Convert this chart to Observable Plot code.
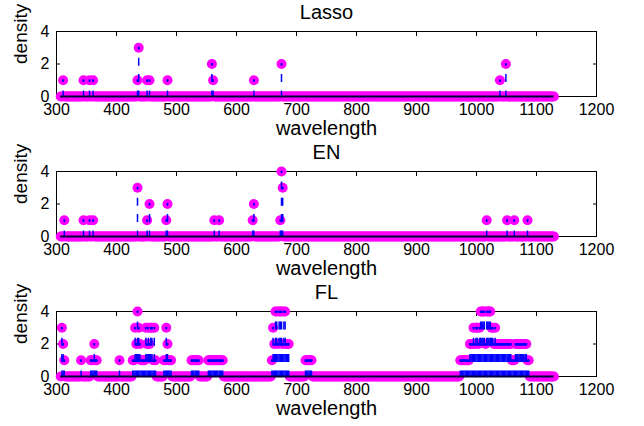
<!DOCTYPE html>
<html>
<head>
<meta charset="utf-8">
<script src="https://cdn.jsdelivr.net/npm/d3@7"></script>
<script src="https://cdn.jsdelivr.net/npm/@observablehq/plot@0.6"></script>
<style>
  html, body { margin: 0; padding: 0; background: #fff; }
  #chart { width: 644px; height: 426px; overflow: hidden; }
  #chart svg { display: block; overflow: visible; }
</style>
</head>
<body>
<div id="chart"></div>
<script>
// ---- data ----
const panelTitles = ["Lasso", "EN", "FL"];
const xLabel = "wavelength";
const yLabel = "density";
const xTicks = [300, 400, 500, 600, 700, 800, 900, 1000, 1100, 1200];
const yTicks = [0, 2, 4];

// wavelength grid of the spectrum (all variables, density 0 unless listed)
const wlStart = 307, wlEnd = 1129, wlStep = 2;

// non-zero selection densities: [wavelength, density]
const lassoPoints = [
  [311, 1], [345, 1], [355, 1], [361, 1], [435, 1], [437, 3], [451, 1], [455, 1],
  [485, 1], [559, 2], [561, 1], [629, 1], [675, 2], [1039, 1], [1049, 2]
];
const enPoints = [
  [313, 1], [345, 1], [355, 1], [361, 1], [435, 3], [451, 1], [455, 2], [483, 1],
  [485, 2], [563, 1], [571, 1], [627, 1], [629, 2], [673, 1], [675, 4], [677, 3],
  [1017, 1], [1051, 1], [1063, 1], [1085, 1]
];
// FL: runs of equal density [fromWavelength, toWavelength, density]
const flRuns = [
  [309, 309, 3], [311, 311, 2], [313, 313, 1],
  [341, 341, 1],
  [357, 361, 1], [363, 363, 2], [365, 367, 1],
  [405, 405, 1],
  [427, 429, 1], [431, 431, 3], [433, 433, 2], [435, 435, 4], [437, 437, 3], [439, 439, 2],
  [441, 447, 1], [449, 449, 3], [451, 451, 2], [453, 453, 3], [455, 455, 2], [457, 459, 3],
  [461, 461, 1], [463, 463, 3], [465, 465, 1],
  [479, 481, 1], [483, 483, 3], [485, 485, 2], [487, 491, 1],
  [525, 537, 1],
  [553, 577, 1],
  [659, 659, 1], [661, 661, 3], [663, 663, 2], [665, 667, 4], [669, 669, 2], [671, 675, 4],
  [677, 677, 2], [679, 681, 4], [683, 687, 2],
  [715, 725, 1],
  [973, 987, 1], [989, 993, 2], [995, 995, 3], [997, 997, 2], [999, 1001, 3], [1003, 1003, 2],
  [1005, 1005, 3], [1007, 1013, 4], [1015, 1015, 2], [1017, 1023, 4], [1025, 1027, 3],
  [1029, 1029, 2], [1031, 1031, 3], [1033, 1057, 2], [1059, 1063, 1], [1065, 1083, 2],
  [1085, 1087, 1]
];

// ---- build tables ----
const grid = d3.range(wlStart, wlEnd + 1, wlStep);
function buildTable(points, runs) {
  const m = new Map(grid.map(w => [w, 0]));
  (points || []).forEach(([w, d]) => m.set(w, d));
  (runs || []).forEach(([a, b, d]) => { for (let w = a; w <= b; w += wlStep) m.set(w, d); });
  return Array.from(m, ([wl, d]) => ({wl, d})).sort((a, b) => a.wl - b.wl);
}
const tables = [buildTable(lassoPoints), buildTable(enPoints), buildTable(null, flRuns)];

const FONT = "'Liberation Sans', Arial, Helvetica, sans-serif";
const MAGENTA = "#ff00ff", BLUE = "#0000ff";

function panel(title, table) {
  const zeros = table.filter(r => r.d === 0);
  const nz = table.filter(r => r.d > 0);
  const wMin = d3.min(table, r => r.wl), wMax = d3.max(table, r => r.wl);
  const blank = () => "";
  return Plot.plot({
    width: 644, height: 140,
    marginLeft: 56, marginRight: 48, marginTop: 31, marginBottom: 44,
    x: {domain: [300, 1200]},
    y: {domain: [0, 4]},
    style: {fontFamily: FONT, background: "white", color: "black", overflow: "visible"},
    marks: [
      Plot.frame({stroke: "black", strokeWidth: 1}),
      // inward tick marks on all four sides
      Plot.axisX({anchor: "bottom", ticks: xTicks, tickSize: -4, tickFormat: blank, label: null}),
      Plot.axisX({anchor: "top", ticks: xTicks, tickSize: -4, tickFormat: blank, label: null}),
      Plot.axisY({anchor: "left", ticks: yTicks, tickSize: -4, tickFormat: blank, label: null}),
      Plot.axisY({anchor: "right", ticks: yTicks, tickSize: -4, tickFormat: blank, label: null}),
      // tick labels
      Plot.axisX({anchor: "bottom", ticks: xTicks, tickSize: 0, tickPadding: 7, fontSize: 16, tickFormat: "d", label: null}),
      Plot.axisY({anchor: "left", ticks: yTicks, tickSize: 0, tickPadding: 7, fontSize: 16, tickFormat: "d", label: null}),
      Plot.dot(zeros, {x: "wl", y: "d", r: 5, fill: MAGENTA, stroke: "none"}),
      Plot.dot(nz, {x: "wl", y: "d", r: 5, fill: MAGENTA, stroke: "none"}),
      Plot.ruleX(nz, {x: "wl", y1: 0, y2: "d", stroke: BLUE, strokeWidth: 1.5,
                      strokeDasharray: "8,8.35", strokeDashoffset: 2.45}),
      Plot.ruleY([0], {x1: wMin, x2: wMax, stroke: "#00003c", strokeWidth: 2}),
      Plot.dot(nz, {x: "wl", y: "d", r: 1, fill: BLUE, stroke: "none"}),
      Plot.text([title], {frameAnchor: "top", lineAnchor: "middle", dy: -19, fontSize: 20, fill: "black"}),
      Plot.text([xLabel], {frameAnchor: "bottom", lineAnchor: "middle", dy: 32, fontSize: 20, fill: "black"}),
      Plot.text([yLabel], {frameAnchor: "left", lineAnchor: "middle", dx: -36, rotate: -90, fontSize: 19, fill: "black"})
    ]
  });
}

const chart = document.getElementById("chart");
panelTitles.forEach((t, i) => chart.appendChild(panel(t, tables[i])));
</script>
</body>
</html>
